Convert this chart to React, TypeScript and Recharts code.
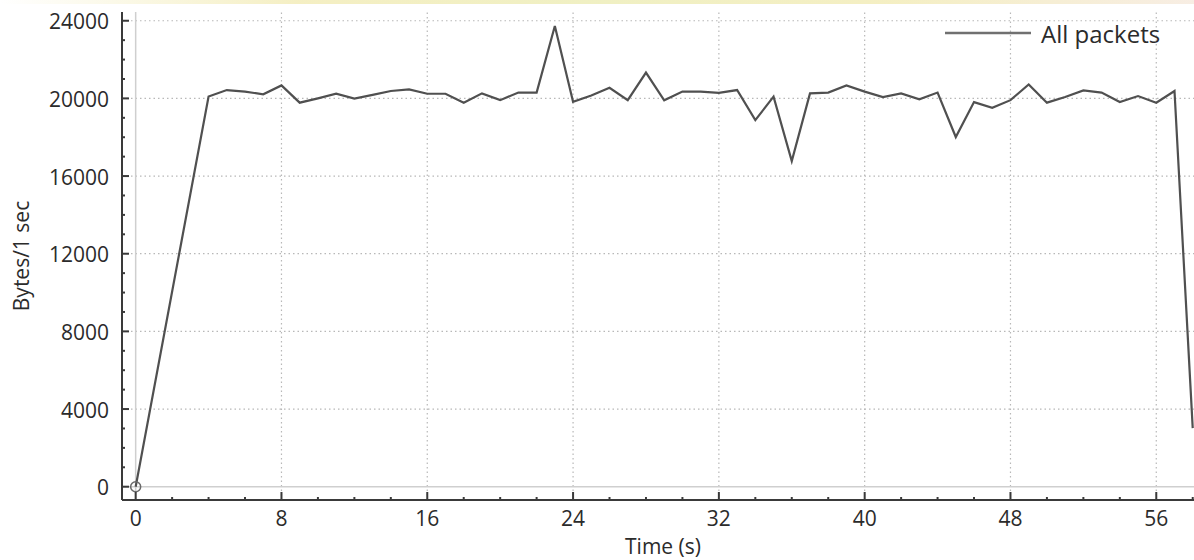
import React from 'react';
import { LineChart, Line, XAxis, YAxis, ReferenceLine } from 'recharts';

const times = [0, 4, 5, 6, 7, 8, 9, 10, 11, 12, 13, 14, 15, 16, 17, 18, 19, 20, 21, 22, 23, 24, 25, 26, 27, 28, 29, 30, 31, 32, 33, 34, 35, 36, 37, 38, 39, 40, 41, 42, 43, 44, 45, 46, 47, 48, 49, 50, 51, 52, 53, 54, 55, 56, 57, 58];
const bytesPerSec = [0, 20100, 20430, 20350, 20210, 20670, 19780, 20000, 20240, 19990, 20180, 20380, 20460, 20240, 20240, 19780, 20260, 19910, 20300, 20300, 23730, 19830, 20150, 20550, 19910, 21330, 19900, 20350, 20350, 20280, 20430, 18880, 20090, 16770, 20260, 20300, 20670, 20350, 20070, 20260, 19950, 20300, 18010, 19810, 19520, 19910, 20720, 19780, 20070, 20410, 20300, 19810, 20120, 19780, 20380, 3020];

const xTicks = [0, 2, 4, 6, 8, 10, 12, 14, 16, 18, 20, 22, 24, 26, 28, 30, 32, 34, 36, 38, 40, 42, 44, 46, 48, 50, 52, 54, 56, 58];
const xMajorTicks = [0, 8, 16, 24, 32, 40, 48, 56];
const yTicks = [0, 1000, 2000, 3000, 4000, 5000, 6000, 7000, 8000, 9000, 10000, 11000, 12000, 13000, 14000, 15000, 16000, 17000, 18000, 19000, 20000, 21000, 22000, 23000, 24000];
const yMajorTicks = [0, 4000, 8000, 12000, 16000, 20000, 24000];

const seriesName = 'All packets';
const xTitle = 'Time (s)';
const yTitle = 'Bytes/1 sec';

const data = times.map((t, i) => ({ t, v: bytesPerSec[i] }));

const FONT = '"Open Sans", "Noto Sans", sans-serif';
const TEXT = '#2b2b2b';
const AXIS = '#3a3a3a';

const XTick = (props: any) => {
  const { x, y, payload } = props;
  const major = xMajorTicks.includes(payload.value);
  return (
    <g>
      <line x1={x} x2={x} y1={y} y2={y - (major ? 8 : 3)} stroke={AXIS} strokeWidth={2} />
      {major && (
        <text x={x} y={y + 26} textAnchor="middle" fill={TEXT} fontSize={21} fontFamily={FONT}>
          {payload.value}
        </text>
      )}
    </g>
  );
};

const YTick = (props: any) => {
  const { x, y, payload } = props;
  const major = yMajorTicks.includes(payload.value);
  return (
    <g>
      <line x1={x} x2={x + (major ? 7 : 3)} y1={y} y2={y} stroke={AXIS} strokeWidth={2} />
      {major && (
        <text x={x - 13} y={y + 8.5} textAnchor="end" fill={TEXT} fontSize={21} fontFamily={FONT}>
          {payload.value}
        </text>
      )}
    </g>
  );
};

const XTitle = (props: any) => {
  const vb = props.viewBox || {};
  const cx = vb.x + vb.width / 2 + 5;
  return (
    <text x={cx} y={vb.y + 54} textAnchor="middle" fill={TEXT} fontSize={21} fontFamily={FONT}>
      {xTitle}
    </text>
  );
};

const YTitle = (props: any) => {
  const vb = props.viewBox || {};
  const cy = vb.y + vb.height / 2;
  const bx = 28.5;
  return (
    <text x={bx} y={cy} transform={`rotate(-90, ${bx}, ${cy})`} textAnchor="middle" fill={TEXT} fontSize={21} fontFamily={FONT}>
      {yTitle}
    </text>
  );
};

const StartDot = (p: any) => {
  if (p.index === 0) {
    return <circle key="dot-0" cx={p.cx} cy={p.cy} r={5} fill="none" stroke="#6a6a6a" strokeWidth={1.5} />;
  }
  return <g key={`dot-${p.index}`} />;
};

export default function App() {
  return (
    <div style={{ position: 'absolute', left: 0, top: 0, width: 1194, height: 560, background: '#fff' }}>
      <div
        style={{
          position: 'absolute',
          left: 0,
          top: 0,
          width: 1194,
          height: 4,
          background:
            'linear-gradient(90deg, rgba(255,255,255,0) 0%, rgba(240,232,170,0.7) 25%, rgba(236,236,180,0.8) 50%, rgba(240,232,170,0.7) 75%, rgba(240,220,200,0.5) 100%)',
        }}
      />
      <LineChart width={1194} height={560} data={data} margin={{ top: 12, right: 0, bottom: 0, left: 0 }}>
        <XAxis
          dataKey="t"
          type="number"
          domain={[-0.75, 58.07]}
          ticks={xTicks}
          interval={0}
          tick={<XTick />}
          tickLine={false}
          tickSize={0}
          tickMargin={0}
          height={60}
          axisLine={{ stroke: AXIS, strokeWidth: 2 }}
          label={<XTitle />}
        />
        <YAxis
          type="number"
          domain={[-685, 24450]}
          ticks={yTicks}
          interval={0}
          tick={<YTick />}
          tickLine={false}
          tickSize={0}
          tickMargin={0}
          width={122}
          axisLine={{ stroke: AXIS, strokeWidth: 2 }}
          label={<YTitle />}
        />
        {xMajorTicks.filter((v) => v !== 0).map((v) => (
          <ReferenceLine key={`vx${v}`} x={v} stroke="#b8b8b8" strokeWidth={1.2} strokeDasharray="1.5 3" />
        ))}
        {yMajorTicks.filter((v) => v !== 0).map((v) => (
          <ReferenceLine key={`hy${v}`} y={v} stroke="#b8b8b8" strokeWidth={1.2} strokeDasharray="1.5 3" />
        ))}
        <ReferenceLine x={0} stroke="#cfcfcf" strokeWidth={1.5} />
        <ReferenceLine y={0} stroke="#cfcfcf" strokeWidth={1.5} />
        <Line
          type="linear"
          dataKey="v"
          name={seriesName}
          stroke="#505050"
          strokeWidth={2.2}
          dot={StartDot}
          activeDot={false}
          isAnimationActive={false}
        />
      </LineChart>
      <svg width={1194} height={560} style={{ position: 'absolute', left: 0, top: 0, pointerEvents: 'none' }}>
        <line x1={945} x2={1031} y1={33} y2={33} stroke="#707070" strokeWidth={2.5} />
        <text x={1041} y={43} fill={TEXT} fontSize={24} fontFamily={FONT}>
          {seriesName}
        </text>
      </svg>
    </div>
  );
}
